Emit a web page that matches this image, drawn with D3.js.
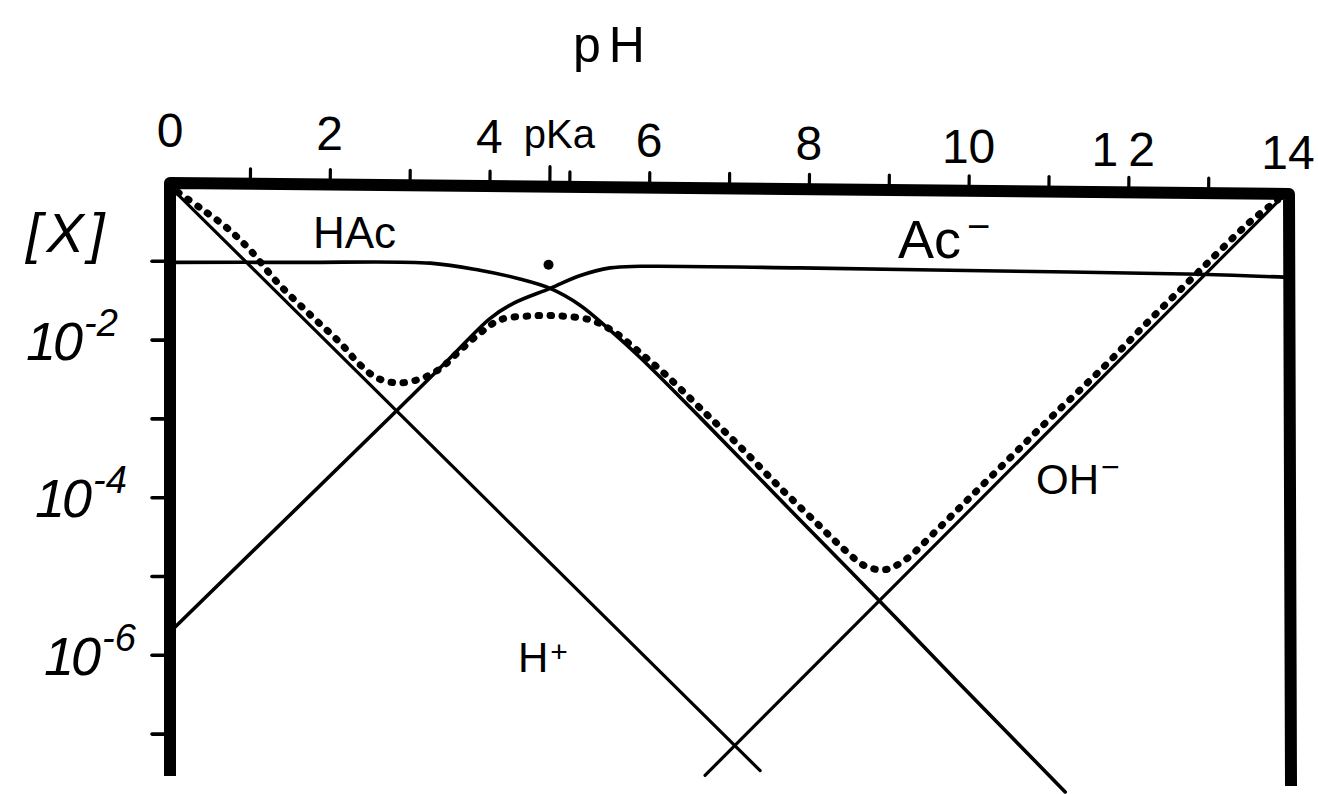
<!DOCTYPE html>
<html><head><meta charset="utf-8">
<script src="https://cdn.jsdelivr.net/npm/d3@7"></script>
<style>html,body{margin:0;padding:0;background:#fff;} svg{display:block;}</style>
</head><body><svg id="c" width="1318" height="794"></svg>
<script>
// ---- data (pH, log10 concentration) ----
const xTickValues = [1, 2, 3, 4, 4.75, 5, 6, 7, 8, 9, 10, 11, 12, 13];
const xLabelValues = [0, 2, 4, 6, 8, 10, 12, 14];
const xLabelTexts = ["0", "2", "4", "6", "8", "10", "12", "14"];
const yTickValues = [-1, -2, -3, -4, -5, -6, -7];
const yLabelValues = [-2, -4, -6];
const yLabelExps = ["-2", "-4", "-6"];
const pKa = 4.75;

const hPlus = [[0.04, -0.10], [7.39, -7.47]];
const ohMinus = [[6.70, -7.53], [13.94, -0.18]];
const hac = [[0.0, -1.02], [1.63, -1.02], [3.26, -1.03], [3.88, -1.12], [4.38, -1.23],
  [4.76, -1.35], [5.13, -1.56], [5.51, -1.88], [5.89, -2.23], [6.64, -2.99],
  [7.89, -4.29], [8.87, -5.30], [9.89, -6.37], [11.21, -7.74]];
const acMinus = [[0.0, -5.71], [2.78, -2.96], [3.51, -2.23], [4.01, -1.73], [4.30, -1.54],
  [4.76, -1.35], [5.13, -1.19], [5.51, -1.09], [5.89, -1.07], [7.89, -1.09],
  [10.39, -1.13], [12.90, -1.17], [14.0, -1.21]];
const total = [[0.10, -0.13], [0.38, -0.33], [0.71, -0.58], [1.00, -0.86], [1.34, -1.27],
  [1.75, -1.68], [2.13, -2.04], [2.38, -2.32], [2.60, -2.49], [2.85, -2.55],
  [3.13, -2.50], [3.38, -2.37], [3.63, -2.14], [3.88, -1.92], [4.13, -1.75],
  [4.51, -1.70], [4.88, -1.70], [5.26, -1.75], [5.53, -1.88], [5.82, -2.11],
  [6.20, -2.44], [6.64, -2.87], [7.14, -3.36], [7.64, -3.88], [8.08, -4.31],
  [8.45, -4.67], [8.70, -4.87], [8.95, -4.92], [9.20, -4.80], [9.58, -4.44],
  [10.02, -4.00], [10.52, -3.50], [11.02, -3.00], [11.65, -2.39], [12.27, -1.75],
  [12.90, -1.12], [13.52, -0.51], [13.87, -0.23]];
const keyPoint = [[4.74, -1.05]];

// ---- drawing ----
const svg = d3.select("#c");
const x = d3.scaleLinear().domain([0, 14]).range([170, 1288]);
const y = d3.scaleLinear().domain([0, -7.5]).range([182, 773]);
const FONT = "'Liberation Sans', Arial, sans-serif";

const straight = d3.line().x(d => x(d[0])).y(d => y(d[1]));
const smooth = d3.line().x(d => x(d[0])).y(d => y(d[1])).curve(d3.curveCatmullRom.alpha(0.5));

const lines = svg.append("g").attr("fill", "none").attr("stroke", "#000")
  .attr("stroke-linecap", "round");
lines.append("path").datum(hPlus).attr("d", straight).attr("stroke-width", 3.2);
lines.append("path").datum(ohMinus).attr("d", straight).attr("stroke-width", 3.2);
lines.append("path").datum(hac).attr("d", smooth).attr("stroke-width", 3.6);
lines.append("path").datum(acMinus).attr("d", smooth).attr("stroke-width", 3.6);
lines.append("path").datum(total).attr("d", smooth).attr("stroke-width", 7)
  .attr("stroke-dasharray", "1.5 10.5");

svg.selectAll("circle.kp").data(keyPoint).join("circle").attr("class", "kp")
  .attr("cx", d => x(d[0])).attr("cy", d => y(d[1])).attr("r", 5);

// top axis (ticks only)
const gTop = svg.append("g").attr("transform", "translate(0,184) rotate(0.56,170,0)")
  .call(d3.axisTop(x).tickValues(xTickValues).tickSize(16).tickFormat(""));
gTop.select(".domain").remove();
gTop.selectAll(".tick line").attr("stroke", "#000").attr("stroke-width", 3.2)
  .attr("stroke-linecap", "round")
  .attr("y2", d => d === pKa ? -21 : -16);

// left axis (ticks only)
const gLeft = svg.append("g").attr("transform", "translate(170,0)")
  .call(d3.axisLeft(y).tickValues(yTickValues).tickSize(18).tickFormat(""));
gLeft.select(".domain").remove();
gLeft.selectAll(".tick line").attr("stroke", "#000").attr("stroke-width", 3.6)
  .attr("stroke-linecap", "round");

// frame
svg.append("path")
  .attr("d", `M170,776 L170,183 L1289,194 L1291,786`)
  .attr("fill", "none").attr("stroke", "#000").attr("stroke-width", 12)
  .attr("stroke-linejoin", "round");

// x tick labels
svg.append("g").selectAll("text").data(xLabelValues).join("text")
  .attr("x", d => x(d)).attr("y", d => 147 + d * 1.6)
  .attr("text-anchor", "middle").attr("font-family", FONT).attr("font-size", 48)
  .attr("letter-spacing", (d, i) => xLabelTexts[i] === "12" ? 10 : 0)
  .text((d, i) => xLabelTexts[i]);

svg.append("text").attr("x", x(pKa) + 10).attr("y", 148).attr("text-anchor", "middle")
  .attr("font-family", FONT).attr("font-size", 40).text("pKa");

// axis titles
svg.append("text").attr("x", 613).attr("y", 62).attr("text-anchor", "middle")
  .attr("font-family", FONT).attr("font-size", 50).attr("letter-spacing", 8).text("pH");
svg.append("text").attr("x", 26).attr("y", 252)
  .attr("font-family", FONT).attr("font-size", 56).attr("font-style", "italic")
  .attr("letter-spacing", 5).text("[X]");

// y labels 10^n
const yl = svg.append("g").selectAll("text").data(yLabelValues).join("text")
  .attr("x", (d, i) => 26 + i * 9).attr("y", d => y(d) + 20)
  .attr("font-family", FONT).attr("font-size", 54).attr("font-style", "italic")
  .attr("letter-spacing", -3);
yl.append("tspan").text("10");
yl.append("tspan").attr("dx", 4).attr("dy", -24).attr("font-size", 38).attr("letter-spacing", 0)
  .text((d, i) => yLabelExps[i]);

// species labels
svg.append("text").attr("x", 313).attr("y", 248).attr("font-family", FONT)
  .attr("font-size", 44).text("HAc");
const ac = svg.append("text").attr("x", 898).attr("y", 258).attr("font-family", FONT)
  .attr("font-size", 54);
ac.append("tspan").text("Ac");
ac.append("tspan").attr("dx", 6).attr("dy", -18).attr("font-size", 40).text("−");
const oh = svg.append("text").attr("x", 1036).attr("y", 494).attr("font-family", FONT)
  .attr("font-size", 42);
oh.append("tspan").text("OH");
oh.append("tspan").attr("dx", 2).attr("dy", -16).attr("font-size", 32).text("−");
const hp = svg.append("text").attr("x", 518).attr("y", 672).attr("font-family", FONT)
  .attr("font-size", 42);
hp.append("tspan").text("H");
hp.append("tspan").attr("dx", 2).attr("dy", -10).attr("font-size", 30).text("+");
</script>
</body></html>
